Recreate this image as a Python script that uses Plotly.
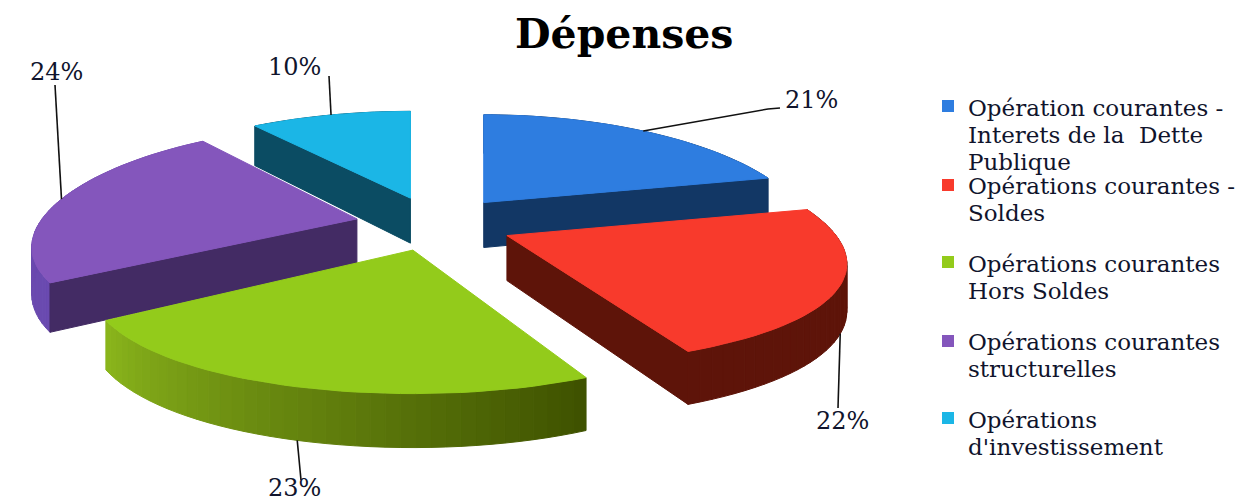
import math
import plotly.graph_objects as go

# ---- data ----
categories = [
    ["Opération courantes -", "Interets de la  Dette", "Publique"],
    ["Opérations courantes -", "Soldes"],
    ["Opérations courantes", "Hors Soldes"],
    ["Opérations courantes", "structurelles"],
    ["Opérations", "d'investissement"],
]
values = [21, 22, 23, 24, 10]
title_text = "Dépenses"

# ---- style ----
top_colors = ["#2e7de0", "#f83a2c", "#93cb1b", "#8456bc", "#1bb6e6"]
cut_colors = ["#123765", "#5e1409", "#56700f", "#432b64", "#0b4c63"]
rim_from = ["#123765", "#5e1409", "#3f5200", "#6a4ab0", "#0b4c63"]
rim_to = ["#123765", "#5e1409", "#8ab51c", "#6a48a8", "#0b4c63"]
draw_order = [3, 4, 0, 1, 2]
FONT = "DejaVu Serif"
TEXT = "#10142c"

# 3D projection parameters (tilted, perspective disc, in picture pixels)
CX, CY, RX, RY, PERSP_X, PERSP_Y, DEPTH, EXPLODE = 435.0, 224.0, 318.0, 108.8, 0.25, 0.166, 45.0, 0.25
scale_x = [0.98, 1.035, 0.99, 0.99, 1.0]
scale_y = [0.94, 1.0, 1.10, 1.0, 0.93]

label_pos = [(811, 100), (842, 421), (294, 488), (56, 72), (294, 67)]
leader_end = [[(768, 109), (780, 108)], [(838, 408)], [(301, 480)], [(55, 85)], [(329, 76)]]
legend_y = [108, 186, 264, 342, 420]
legend_sq_y = [106, 185, 262, 341, 418]
LINE_H = 27


def unit(deg):
    t = math.radians(deg)
    return math.sin(t), -math.cos(t)


def rim(apex, deg, i, drop=0.0):
    u, v = unit(deg)
    sx = 1.0 / (1.0 - PERSP_X * v)
    sy = 1.0 / (1.0 - PERSP_Y * v)
    return (apex[0] + RX * scale_x[i] * u * sx,
            apex[1] + RY * scale_y[i] * v * sy + DEPTH * sy * drop)


def mix(a, b, f):
    ca = [int(a[i:i + 2], 16) for i in (1, 3, 5)]
    cb = [int(b[i:i + 2], 16) for i in (1, 3, 5)]
    return "rgb(%d,%d,%d)" % tuple(round(x + (y - x) * f) for x, y in zip(ca, cb))


def poly(pts, color):
    xs = [p[0] for p in pts] + [pts[0][0]]
    ys = [p[1] for p in pts] + [pts[0][1]]
    return go.Scatter(x=xs, y=ys, mode="lines", fill="toself", fillcolor=color,
                      line=dict(color=color, width=1), hoverinfo="skip", showlegend=False)


fig = go.Figure()
total = sum(values)
starts, acc = [], 0
for v in values:
    starts.append(acc / total * 360)
    acc += v

for i in draw_order:
    a0 = starts[i]
    a1 = a0 + values[i] / total * 360
    mid = (a0 + a1) / 2
    mu, mv = unit(mid)
    apex = (CX + EXPLODE * RX * mu, CY + EXPLODE * RY * mv)
    low = (apex[0], apex[1] + DEPTH)
    n = 40
    angs = [a0 + (a1 - a0) * k / n for k in range(n + 1)]
    # outer rim, shaded segment by segment
    for k in range(n):
        f = k / (n - 1)
        fig.add_trace(poly([rim(apex, angs[k], i), rim(apex, angs[k + 1], i),
                            rim(apex, angs[k + 1], i, 1), rim(apex, angs[k], i, 1)],
                           mix(rim_from[i], rim_to[i], f)))
    # the cut faces that look towards the viewer
    for ang, normal in ((a0, a0 - 90), (a1, a1 + 90)):
        if unit(normal)[1] > 0.01:
            fig.add_trace(poly([apex, rim(apex, ang, i), rim(apex, ang, i, 1), low], cut_colors[i]))
    # top face
    fig.add_trace(poly([apex] + [rim(apex, a, i) for a in angs], top_colors[i]))
    # leader line
    anchor = rim(apex, mid, i, 1 if mv > 0 else 0)
    pts = [anchor] + leader_end[i]
    fig.add_trace(go.Scatter(x=[p[0] for p in pts], y=[p[1] for p in pts], mode="lines",
                             line=dict(color="#111111", width=1.6), hoverinfo="skip", showlegend=False))
    fig.add_annotation(x=label_pos[i][0], y=label_pos[i][1], text=f"{values[i]}%", showarrow=False,
                       font=dict(family=FONT, size=24, color=TEXT))

# legend
for i, lines in enumerate(categories):
    fig.add_trace(go.Scatter(x=[948], y=[legend_sq_y[i]], mode="markers",
                             marker=dict(symbol="square", size=12, color=top_colors[i]),
                             hoverinfo="skip", showlegend=False))
    for j, line in enumerate(lines):
        fig.add_annotation(x=966, y=legend_y[i] + j * LINE_H, text=line, showarrow=False,
                           xanchor="left", yanchor="middle", align="left",
                           font=dict(family=FONT, size=23, color=TEXT))

fig.add_annotation(x=624, y=34, text=f"<b>{title_text}</b>", showarrow=False,
                   font=dict(family=FONT, size=41, color="#000000"))

fig.update_layout(
    width=1259, height=502, margin=dict(l=0, r=0, t=0, b=0),
    paper_bgcolor="white", plot_bgcolor="white", showlegend=False,
    xaxis=dict(range=[0, 1259], visible=False, fixedrange=True),
    yaxis=dict(range=[502, 0], visible=False, fixedrange=True),
)
fig.write_html("out.html", config={"displayModeBar": False},
               post_script="document.body.style.margin='0';document.documentElement.style.overflow='hidden';")
